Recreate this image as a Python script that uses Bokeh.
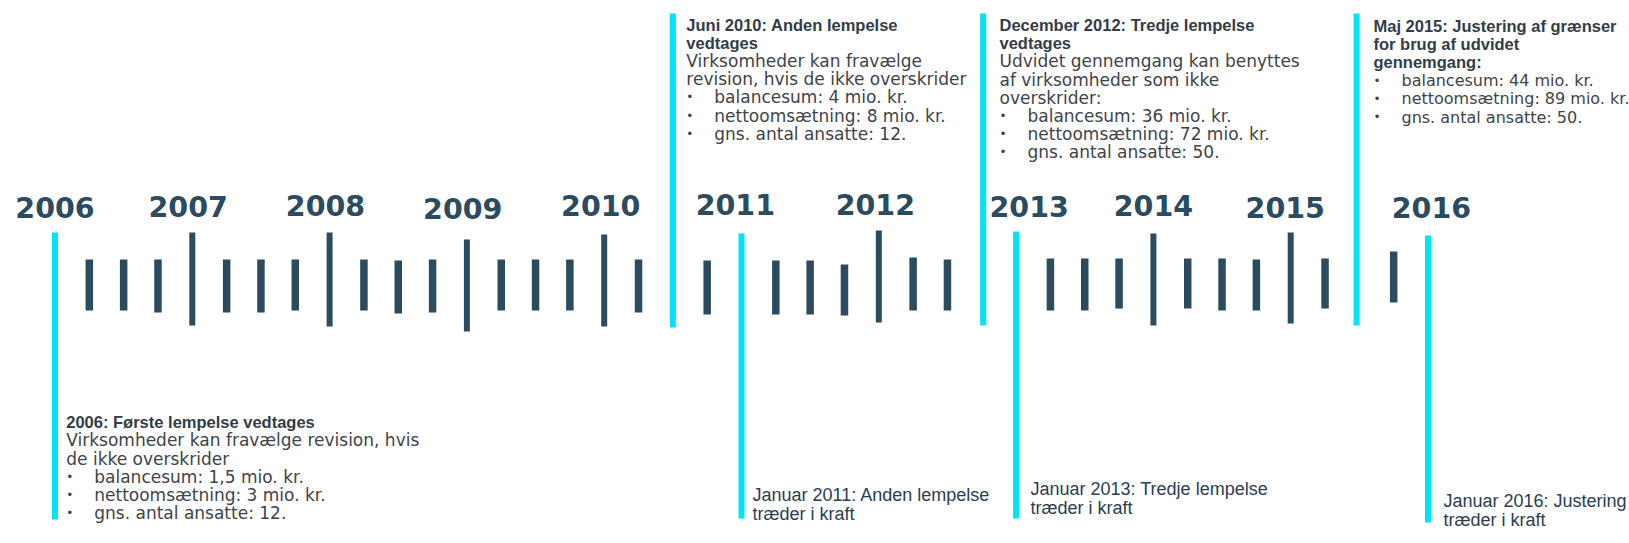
from bokeh.plotting import figure
from bokeh.models import Range1d, ColumnDataSource
from bokeh.core.properties import value
from bokeh.embed import file_html
from bokeh.resources import INLINE

# ---------------- data ----------------
# quarterly timeline ticks (year decimal), with read-off top / bottom extents
tick_x = [2006.25, 2006.5, 2006.75, 2007.0, 2007.25, 2007.5, 2007.75, 2008.0,
          2008.25, 2008.5, 2008.75, 2009.0, 2009.25, 2009.5, 2009.75, 2010.0,
          2010.25, 2010.75, 2011.25, 2011.5, 2011.75, 2012.0, 2012.25, 2012.5,
          2013.25, 2013.5, 2013.75, 2014.0, 2014.25, 2014.5, 2014.75, 2015.0,
          2015.25, 2015.75]
tick_top = [259, 259, 259, 232, 259, 259, 259, 232,
            259, 260, 259, 239, 259, 259, 259, 234,
            259, 260, 260, 260, 264, 230, 257, 259,
            258, 258, 258, 233, 258, 258, 259, 232,
            258, 251]
tick_bottom = [310, 310, 312, 325, 312, 312, 310, 326,
               310, 313, 312, 331, 310, 310, 310, 326,
               312, 314, 314, 314, 315, 322, 310, 310,
               310, 310, 308, 325, 308, 310, 310, 323,
               308, 302]

years = ["2006", "2007", "2008", "2009", "2010", "2011", "2012", "2013", "2014", "2015", "2016"]
year_pos = [2006, 2007, 2008, 2009, 2010, 2011, 2012, 2013, 2014, 2015, 2016]
year_shift = [0.0, -0.03, -0.03, -0.03, -0.025, -0.045, -0.025, 0.095, 0.0, -0.04, 0.025]
year_center = [206.7, 205.8, 204.5, 207.5, 204.5, 203.7, 203.7, 205.8, 205.0, 207.0, 207.0]

# event markers
event_x = [2006.0, 2010.5, 2011.0, 2012.76, 2013.0, 2015.48, 2016.0]
event_top = [232, 13, 233, 13, 231, 13, 235]
event_bottom = [519, 327, 518, 325, 518, 325, 522]

# text blocks
blk_2006_title = ["2006: Første lempelse vedtages"]
blk_2006_body = ["Virksomheder kan fravælge revision, hvis", "de ikke overskrider"]
blk_2006_bullets = ["balancesum: 1,5 mio. kr.", "nettoomsætning: 3 mio. kr.", "gns. antal ansatte: 12."]

blk_2010_title = ["Juni 2010: Anden lempelse", "vedtages"]
blk_2010_body = ["Virksomheder kan fravælge", "revision, hvis de ikke overskrider"]
blk_2010_bullets = ["balancesum: 4 mio. kr.", "nettoomsætning: 8 mio. kr.", "gns. antal ansatte: 12."]

blk_2012_title = ["December 2012: Tredje lempelse", "vedtages"]
blk_2012_body = ["Udvidet gennemgang kan benyttes", "af virksomheder som ikke", "overskrider:"]
blk_2012_bullets = ["balancesum: 36 mio. kr.", "nettoomsætning: 72 mio. kr.", "gns. antal ansatte: 50."]

blk_2015_title = ["Maj 2015: Justering af grænser", "for brug af udvidet", "gennemgang:"]
blk_2015_body = []
blk_2015_bullets = ["balancesum: 44 mio. kr.", "nettoomsætning: 89 mio. kr.", "gns. antal ansatte: 50."]

jan_2011 = ["Januar 2011: Anden lempelse", "træder i kraft"]
jan_2013 = ["Januar 2013: Tredje lempelse", "træder i kraft"]
jan_2016 = ["Januar 2016: Justering", "træder i kraft"]

# anchor of each text block (year decimal, first line centre)
blk_x = [2006.082, 2010.598, 2012.879, 2015.603]
blk_y = [421.7, 24.0, 24.5, 25.5]
jan_x = [2011.08, 2013.105, 2016.113]
jan_y = [494, 488, 500]

# ---------------- figure ----------------
W, H = 1629, 543
PX_PER_YEAR = 137.3
X0 = 2006 - 54.5 / PX_PER_YEAR
X1 = X0 + W / PX_PER_YEAR

p = figure(width=W, height=H, x_range=Range1d(X0, X1), y_range=Range1d(H, 0),
           x_axis_type=None, y_axis_type=None, output_backend="svg",
           toolbar_location=None, min_border=0)
p.grid.visible = False
p.outline_line_color = None
p.background_fill_color = "white"
p.border_fill_color = "white"

DARK = "#2b4b60"
CYAN = "#00e3ff"

widths = [6.0 if float(x).is_integer() else 7.5 for x in tick_x]
ts = ColumnDataSource(dict(x=tick_x, y0=tick_top, y1=tick_bottom, w=widths))
p.segment(x0="x", y0="y0", x1="x", y1="y1", line_width="w", line_color=DARK,
          line_cap="butt", source=ts)

es = ColumnDataSource(dict(x=event_x, y0=event_top, y1=event_bottom))
p.segment(x0="x", y0="y0", x1="x", y1="y1", line_width=6, line_color=CYAN,
          line_cap="butt", source=es)

ys = ColumnDataSource(dict(x=[a + b for a, b in zip(year_pos, year_shift)],
                           y=year_center, t=years))
p.text(x="x", y="y", text="t", source=ys, text_align="center",
       text_baseline="middle", text_font=value("DejaVu Sans"),
       text_font_style="bold", text_font_size="28.5px", text_color=DARK)

STEP = 18.2
FONT = value("DejaVu Sans")
TITLE_FONT = value("Liberation Sans")
TEXT_COL = "#404448"


def add_block(x, y0, titles, body, bullets, body_size="17px", bullet_size="17px"):
    k = 0
    xs, yv, tv = [], [], []
    for t in titles:
        xs.append(x); yv.append(y0 + k * STEP); tv.append(t); k += 1
    p.text(x=xs, y=yv, text=tv, text_align="left", text_baseline="middle",
           text_font=TITLE_FONT, text_font_style="bold", text_font_size="16.5px",
           text_color="#333d45")
    xs, yv, tv = [], [], []
    for t in body:
        xs.append(x); yv.append(y0 + k * STEP); tv.append(t); k += 1
    if tv:
        p.text(x=xs, y=yv, text=tv, text_align="left", text_baseline="middle",
               text_font=FONT, text_font_size=body_size, text_color=TEXT_COL)
    bx, by, bt = [], [], []
    for t in bullets:
        bx.append(x); by.append(y0 + k * STEP); bt.append(t); k += 1
    p.text(x=bx, y=by, text=["•"] * len(bt), text_align="left", text_baseline="middle",
           text_font=FONT, text_font_size="12px", text_color=TEXT_COL)
    p.text(x=bx, y=by, text=bt, x_offset=28, text_align="left", text_baseline="middle",
           text_font=FONT, text_font_size=bullet_size, text_color=TEXT_COL)


add_block(blk_x[0], blk_y[0], blk_2006_title, blk_2006_body, blk_2006_bullets)
add_block(blk_x[1], blk_y[1], blk_2010_title, blk_2010_body, blk_2010_bullets)
add_block(blk_x[2], blk_y[2], blk_2012_title, blk_2012_body, blk_2012_bullets)
add_block(blk_x[3], blk_y[3], blk_2015_title, blk_2015_body, blk_2015_bullets,
          bullet_size="16px")

for jx, jy, lines in zip(jan_x, jan_y, [jan_2011, jan_2013, jan_2016]):
    p.text(x=[jx] * len(lines), y=[jy + i * 19 for i in range(len(lines))], text=lines,
           text_align="left", text_baseline="middle", text_font=value("Liberation Sans"),
           text_font_size="18px", text_color="#2c3e50")

open("out.html", "w").write(file_html(p, INLINE))
